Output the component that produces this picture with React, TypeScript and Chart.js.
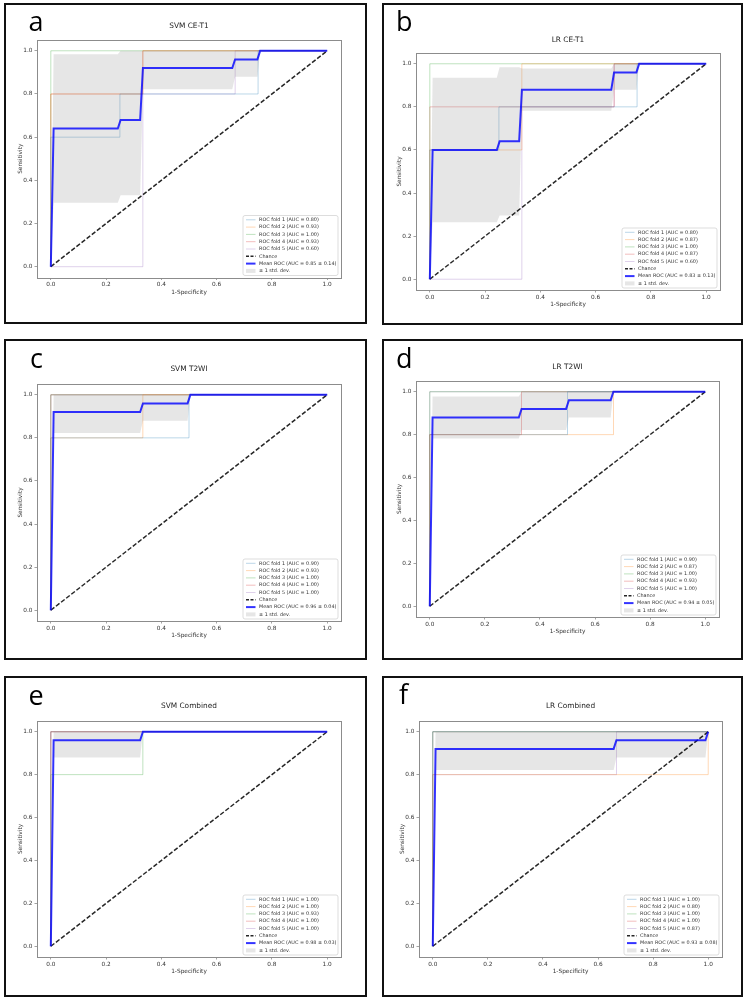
import React, { useEffect, useRef } from "react";
import { Chart, registerables } from "chart.js";

Chart.register(...registerables);

// ---------------- data ----------------
const X_TICKS = [0, 0.2, 0.4, 0.6, 0.8, 1.0];
const Y_TICKS = [0, 0.2, 0.4, 0.6, 0.8, 1.0];
const FOLD_LABELS = ["ROC fold 1", "ROC fold 2", "ROC fold 3", "ROC fold 4", "ROC fold 5"];
const CHANCE_LINE = [[0, 0], [1, 1]];
const PERFECT_FOLD = [[0, 0], [0, 1], [1, 1]];

// a — SVM CE-T1
const A_TITLE = "SVM CE-T1";
const A_FOLD_AUC = [0.8, 0.93, 1.0, 0.93, 0.6];
const A_MEAN_AUC = 0.85;
const A_STD_AUC = 0.14;
const A_FOLD1 = [[0, 0], [0, 0.6], [0.25, 0.6], [0.25, 0.8], [0.75, 0.8], [0.75, 1], [1, 1]];
const A_FOLD2 = [[0, 0], [0, 0.8], [0.333, 0.8], [0.333, 1], [1, 1]];
const A_FOLD3 = PERFECT_FOLD;
const A_FOLD4 = [[0, 0], [0, 0.8], [0.333, 0.8], [0.333, 1], [1, 1]];
const A_FOLD5 = [[0, 0], [0.333, 0], [0.333, 0.8], [0.667, 0.8], [0.667, 1], [1, 1]];
const A_MEAN_FPR = [0, 0.0101, 0.2424, 0.2525, 0.3232, 0.3333, 0.6566, 0.6667, 0.7475, 0.7576, 1];
const A_MEAN_TPR = [0, 0.64, 0.64, 0.68, 0.68, 0.92, 0.92, 0.96, 0.96, 1, 1];
const A_TPR_UPPER = [0, 0.984, 0.984, 1, 1, 1, 1, 1, 1, 1, 1];
const A_TPR_LOWER = [0, 0.296, 0.296, 0.331, 0.331, 0.822, 0.822, 0.88, 0.88, 1, 1];

// b — LR CE-T1
const B_TITLE = "LR CE-T1";
const B_FOLD_AUC = [0.8, 0.87, 1.0, 0.87, 0.6];
const B_MEAN_AUC = 0.83;
const B_STD_AUC = 0.13;
const B_FOLD1 = [[0, 0], [0, 0.6], [0.25, 0.6], [0.25, 0.8], [0.75, 0.8], [0.75, 1], [1, 1]];
const B_FOLD2 = [[0, 0], [0, 0.6], [0.333, 0.6], [0.333, 1], [1, 1]];
const B_FOLD3 = PERFECT_FOLD;
const B_FOLD4 = [[0, 0], [0, 0.8], [0.667, 0.8], [0.667, 1], [1, 1]];
const B_FOLD5 = [[0, 0], [0.333, 0], [0.333, 0.8], [0.667, 0.8], [0.667, 1], [1, 1]];
const B_MEAN_FPR = [0, 0.0101, 0.2424, 0.2525, 0.3232, 0.3333, 0.6566, 0.6667, 0.7475, 0.7576, 1];
const B_MEAN_TPR = [0, 0.6, 0.6, 0.64, 0.64, 0.88, 0.88, 0.96, 0.96, 1, 1];
const B_TPR_UPPER = [0, 0.935, 0.935, 0.984, 0.984, 0.978, 0.978, 1, 1, 1, 1];
const B_TPR_LOWER = [0, 0.265, 0.265, 0.296, 0.296, 0.782, 0.782, 0.88, 0.88, 1, 1];

// c — SVM T2WI
const C_TITLE = "SVM T2WI";
const C_FOLD_AUC = [0.9, 0.93, 1.0, 1.0, 1.0];
const C_MEAN_AUC = 0.96;
const C_STD_AUC = 0.04;
const C_FOLD1 = [[0, 0], [0, 0.8], [0.5, 0.8], [0.5, 1], [1, 1]];
const C_FOLD2 = [[0, 0], [0, 0.8], [0.333, 0.8], [0.333, 1], [1, 1]];
const C_FOLD3 = PERFECT_FOLD;
const C_FOLD4 = PERFECT_FOLD;
const C_FOLD5 = PERFECT_FOLD;
const C_MEAN_FPR = [0, 0.0101, 0.3232, 0.3333, 0.4949, 0.5051, 1];
const C_MEAN_TPR = [0, 0.92, 0.92, 0.96, 0.96, 1, 1];
const C_TPR_UPPER = [0, 1, 1, 1, 1, 1, 1];
const C_TPR_LOWER = [0, 0.822, 0.822, 0.88, 0.88, 1, 1];

// d — LR T2WI
const D_TITLE = "LR T2WI";
const D_FOLD_AUC = [0.9, 0.87, 1.0, 0.93, 1.0];
const D_MEAN_AUC = 0.94;
const D_STD_AUC = 0.05;
const D_FOLD1 = [[0, 0], [0, 0.8], [0.5, 0.8], [0.5, 1], [1, 1]];
const D_FOLD2 = [[0, 0], [0, 0.8], [0.667, 0.8], [0.667, 1], [1, 1]];
const D_FOLD3 = PERFECT_FOLD;
const D_FOLD4 = [[0, 0], [0, 0.8], [0.333, 0.8], [0.333, 1], [1, 1]];
const D_FOLD5 = PERFECT_FOLD;
const D_MEAN_FPR = [0, 0.0101, 0.3232, 0.3333, 0.4949, 0.5051, 0.6566, 0.6667, 1];
const D_MEAN_TPR = [0, 0.88, 0.88, 0.92, 0.92, 0.96, 0.96, 1, 1];
const D_TPR_UPPER = [0, 0.978, 0.978, 1, 1, 1, 1, 1, 1];
const D_TPR_LOWER = [0, 0.782, 0.782, 0.822, 0.822, 0.88, 0.88, 1, 1];

// e — SVM Combined
const E_TITLE = "SVM Combined";
const E_FOLD_AUC = [1.0, 1.0, 0.93, 1.0, 1.0];
const E_MEAN_AUC = 0.98;
const E_STD_AUC = 0.03;
const E_FOLD1 = PERFECT_FOLD;
const E_FOLD2 = PERFECT_FOLD;
const E_FOLD3 = [[0, 0], [0, 0.8], [0.333, 0.8], [0.333, 1], [1, 1]];
const E_FOLD4 = PERFECT_FOLD;
const E_FOLD5 = PERFECT_FOLD;
const E_MEAN_FPR = [0, 0.0101, 0.3232, 0.3333, 1];
const E_MEAN_TPR = [0, 0.96, 0.96, 1, 1];
const E_TPR_UPPER = [0, 1, 1, 1, 1];
const E_TPR_LOWER = [0, 0.88, 0.88, 1, 1];

// f — LR Combined
const F_TITLE = "LR Combined";
const F_FOLD_AUC = [1.0, 0.8, 1.0, 1.0, 0.87];
const F_MEAN_AUC = 0.93;
const F_STD_AUC = 0.08;
const F_FOLD1 = PERFECT_FOLD;
const F_FOLD2 = [[0, 0], [0, 0.8], [1, 0.8], [1, 1]];
const F_FOLD3 = PERFECT_FOLD;
const F_FOLD4 = PERFECT_FOLD;
const F_FOLD5 = [[0, 0], [0, 0.8], [0.667, 0.8], [0.667, 1], [1, 1]];
const F_MEAN_FPR = [0, 0.0101, 0.6566, 0.6667, 0.9899, 1];
const F_MEAN_TPR = [0, 0.92, 0.92, 0.96, 0.96, 1];
const F_TPR_UPPER = [0, 1, 1, 1, 1, 1];
const F_TPR_LOWER = [0, 0.822, 0.822, 0.88, 0.88, 1];

// ---------------- layout / style ----------------
// [left, top, right, bottom] in page pixels
const PANEL_BOXES = [
  [4, 3, 367, 324],
  [382, 3, 743, 325],
  [4, 339, 367, 660],
  [382, 339, 743, 660],
  [4, 676, 367, 997],
  [382, 676, 743, 997],
];
const AXES_BOXES = [
  [37, 40, 341, 277.5],
  [416, 53, 720, 290],
  [37, 384, 341, 621],
  [416, 381, 719, 617],
  [37, 721, 341, 957],
  [419, 721, 722, 957],
];
const TITLE_CENTER_Y = [26, 40, 369, 367, 706, 706];
const LETTERS = ["a", "b", "c", "d", "e", "f"];
const LETTER_POS = [
  [28.5, 30.5],
  [396, 30.5],
  [30, 368],
  [396, 368],
  [28.5, 705],
  [399, 704],
];

const FOLD_COLORS = [
  "rgba(31,119,180,0.3)",
  "rgba(255,127,14,0.3)",
  "rgba(44,160,44,0.3)",
  "rgba(214,39,40,0.3)",
  "rgba(148,103,189,0.3)",
];
const MEAN_COLOR = "rgba(0,0,255,0.8)";
const CHANCE_COLOR = "rgba(0,0,0,0.85)";
const BAND_COLOR = "rgba(128,128,128,0.2)";
const FONT = "'DejaVu Sans', sans-serif";
const TEXT_COLOR = "#333";
const FRAME_COLOR = "#8c8c8c";

const PANELS = [
  { title: A_TITLE, auc: A_FOLD_AUC, mean: A_MEAN_AUC, std: A_STD_AUC, folds: [A_FOLD1, A_FOLD2, A_FOLD3, A_FOLD4, A_FOLD5], fpr: A_MEAN_FPR, tpr: A_MEAN_TPR, up: A_TPR_UPPER, lo: A_TPR_LOWER },
  { title: B_TITLE, auc: B_FOLD_AUC, mean: B_MEAN_AUC, std: B_STD_AUC, folds: [B_FOLD1, B_FOLD2, B_FOLD3, B_FOLD4, B_FOLD5], fpr: B_MEAN_FPR, tpr: B_MEAN_TPR, up: B_TPR_UPPER, lo: B_TPR_LOWER },
  { title: C_TITLE, auc: C_FOLD_AUC, mean: C_MEAN_AUC, std: C_STD_AUC, folds: [C_FOLD1, C_FOLD2, C_FOLD3, C_FOLD4, C_FOLD5], fpr: C_MEAN_FPR, tpr: C_MEAN_TPR, up: C_TPR_UPPER, lo: C_TPR_LOWER },
  { title: D_TITLE, auc: D_FOLD_AUC, mean: D_MEAN_AUC, std: D_STD_AUC, folds: [D_FOLD1, D_FOLD2, D_FOLD3, D_FOLD4, D_FOLD5], fpr: D_MEAN_FPR, tpr: D_MEAN_TPR, up: D_TPR_UPPER, lo: D_TPR_LOWER },
  { title: E_TITLE, auc: E_FOLD_AUC, mean: E_MEAN_AUC, std: E_STD_AUC, folds: [E_FOLD1, E_FOLD2, E_FOLD3, E_FOLD4, E_FOLD5], fpr: E_MEAN_FPR, tpr: E_MEAN_TPR, up: E_TPR_UPPER, lo: E_TPR_LOWER },
  { title: F_TITLE, auc: F_FOLD_AUC, mean: F_MEAN_AUC, std: F_STD_AUC, folds: [F_FOLD1, F_FOLD2, F_FOLD3, F_FOLD4, F_FOLD5], fpr: F_MEAN_FPR, tpr: F_MEAN_TPR, up: F_TPR_UPPER, lo: F_TPR_LOWER },
];

// ---------------- plugins ----------------
const framePlugin = {
  id: "rocFrame",
  afterDatasetsDraw(chart: any) {
    const { ctx, chartArea } = chart;
    ctx.save();
    ctx.strokeStyle = FRAME_COLOR;
    ctx.lineWidth = 1;
    ctx.strokeRect(
      Math.round(chartArea.left) + 0.5,
      Math.round(chartArea.top) + 0.5,
      Math.round(chartArea.right - chartArea.left),
      Math.round(chartArea.bottom - chartArea.top)
    );
    ctx.restore();
  },
};

const legendPlugin = {
  id: "rocLegend",
  afterDraw(chart: any, _args: any, opts: any) {
    const { ctx, chartArea } = chart;
    const items = opts.items || [];
    const W = 95;
    const H = 60;
    const pitch = 7.3;
    const x0 = chartArea.right - 3 - W;
    const y0 = chartArea.bottom - 2 - H;
    ctx.save();
    const r = 2;
    ctx.beginPath();
    ctx.moveTo(x0 + r, y0);
    ctx.lineTo(x0 + W - r, y0);
    ctx.quadraticCurveTo(x0 + W, y0, x0 + W, y0 + r);
    ctx.lineTo(x0 + W, y0 + H - r);
    ctx.quadraticCurveTo(x0 + W, y0 + H, x0 + W - r, y0 + H);
    ctx.lineTo(x0 + r, y0 + H);
    ctx.quadraticCurveTo(x0, y0 + H, x0, y0 + H - r);
    ctx.lineTo(x0, y0 + r);
    ctx.quadraticCurveTo(x0, y0, x0 + r, y0);
    ctx.closePath();
    ctx.fillStyle = "rgba(255,255,255,0.8)";
    ctx.fill();
    ctx.strokeStyle = "#d4d4d4";
    ctx.lineWidth = 0.8;
    ctx.stroke();

    ctx.font = `4.9px ${FONT}`;
    ctx.textBaseline = "middle";
    ctx.textAlign = "left";
    items.forEach((it: any, i: number) => {
      const cy = y0 + 4.3 + i * pitch;
      const hx0 = x0 + 3;
      const hx1 = x0 + 12.5;
      if (it.kind === "patch") {
        ctx.fillStyle = it.color;
        ctx.fillRect(hx0, cy - 2, hx1 - hx0, 4);
      } else {
        ctx.beginPath();
        ctx.setLineDash(it.dash || []);
        ctx.strokeStyle = it.color;
        ctx.lineWidth = it.width;
        ctx.moveTo(hx0, cy);
        ctx.lineTo(hx1, cy);
        ctx.stroke();
        ctx.setLineDash([]);
      }
      ctx.fillStyle = TEXT_COLOR;
      ctx.fillText(it.label, x0 + 16, cy);
    });
    ctx.restore();
  },
};

// ---------------- component ----------------
const YW = 20;
const XH = 18;

function RocPanel({ idx }: { idx: number }) {
  const ref = useRef<HTMLCanvasElement | null>(null);
  const p = PANELS[idx];
  const [bl, bt, br, bb] = PANEL_BOXES[idx];
  const cx = bl + 2;
  const cy = bt + 2;
  const cw = br - bl - 4;
  const ch = bb - bt - 4;
  const [al, at, ar, ab] = AXES_BOXES[idx];

  useEffect(() => {
    const canvas = ref.current;
    if (!canvas) return;
    const toPts = (arr: number[][]) => arr.map(([x, y]) => ({ x, y }));
    const pairs = (xs: number[], ys: number[]) => xs.map((x, i) => ({ x, y: ys[i] }));
    const noLine = "rgba(0,0,0,0)";

    const datasets: any[] = [
      {
        label: `Mean ROC (AUC = ${p.mean.toFixed(2)} \u00b1 ${p.std.toFixed(2)})`,
        data: pairs(p.fpr, p.tpr),
        borderColor: MEAN_COLOR,
        borderWidth: 2,
        fill: false,
      },
      {
        label: "Chance",
        data: toPts(CHANCE_LINE),
        borderColor: CHANCE_COLOR,
        borderWidth: 1.5,
        borderDash: [4.5, 2],
        fill: false,
      },
      {
        label: "\u00b1 1 std. dev.",
        data: pairs(p.fpr, p.up),
        borderColor: noLine,
        borderWidth: 0,
        backgroundColor: BAND_COLOR,
        fill: "+1",
      },
      {
        label: "lower",
        data: pairs(p.fpr, p.lo),
        borderColor: noLine,
        borderWidth: 0,
        fill: false,
      },
      ...p.folds.map((f, i) => ({
        label: `${FOLD_LABELS[i]} (AUC = ${p.auc[i].toFixed(2)})`,
        data: toPts(f),
        borderColor: FOLD_COLORS[i],
        borderWidth: 1,
        fill: false,
      })),
    ];

    const legendItems = [
      ...p.auc.map((a, i) => ({
        label: `${FOLD_LABELS[i]} (AUC = ${a.toFixed(2)})`,
        kind: "line",
        color: FOLD_COLORS[i],
        width: 1,
      })),
      { label: "Chance", kind: "line", color: CHANCE_COLOR, width: 1.5, dash: [3, 1.5] },
      {
        label: `Mean ROC (AUC = ${p.mean.toFixed(2)} \u00b1 ${p.std.toFixed(2)})`,
        kind: "line",
        color: MEAN_COLOR,
        width: 2,
      },
      { label: "\u00b1 1 std. dev.", kind: "patch", color: BAND_COLOR },
    ];

    const tickFont = { family: FONT, size: 5.8 };
    const gridOpts = {
      display: true,
      drawOnChartArea: false,
      drawTicks: true,
      tickLength: 2.5,
      color: FRAME_COLOR,
      lineWidth: 0.8,
    };

    const chart = new Chart(canvas, {
      type: "line",
      data: { datasets },
      options: {
        animation: false,
        responsive: false,
        devicePixelRatio: 1,
        events: [],
        layout: {
          padding: {
            left: al - cx - YW,
            top: at - cy,
            right: cx + cw - ar,
            bottom: cy + ch - ab - XH,
          },
        },
        elements: {
          point: { radius: 0, hoverRadius: 0 },
          line: { tension: 0 },
        },
        plugins: {
          legend: { display: false },
          tooltip: { enabled: false },
          title: { display: false },
          rocLegend: { items: legendItems },
        } as any,
        scales: {
          x: {
            type: "linear",
            min: -0.05,
            max: 1.05,
            afterBuildTicks: (s: any) => {
              s.ticks = X_TICKS.map((v) => ({ value: v }));
            },
            afterFit: (s: any) => {
              s.height = XH;
            },
            ticks: {
              font: tickFont,
              color: TEXT_COLOR,
              padding: 1.5,
              maxRotation: 0,
              autoSkip: false,
              callback: (v: any) => Number(v).toFixed(1),
            },
            grid: gridOpts,
            border: { display: false },
            title: {
              display: true,
              text: "1-Specificity",
              font: tickFont,
              color: TEXT_COLOR,
              padding: 0,
            },
          },
          y: {
            type: "linear",
            min: -0.05,
            max: 1.05,
            afterBuildTicks: (s: any) => {
              s.ticks = Y_TICKS.map((v) => ({ value: v }));
            },
            afterFit: (s: any) => {
              s.width = YW;
            },
            ticks: {
              font: tickFont,
              color: TEXT_COLOR,
              padding: 2,
              autoSkip: false,
              callback: (v: any) => Number(v).toFixed(1),
            },
            grid: gridOpts,
            border: { display: false },
            title: {
              display: true,
              text: "Sensitivity",
              font: tickFont,
              color: TEXT_COLOR,
              padding: 0,
            },
          },
        },
      } as any,
      plugins: [framePlugin, legendPlugin],
    });
    return () => chart.destroy();
  }, [idx]);

  const [lx, lbase] = LETTER_POS[idx];
  const titleSize = 7.4;
  return (
    <>
      <canvas
        ref={ref}
        width={cw}
        height={ch}
        style={{ position: "absolute", left: cx, top: cy, width: cw, height: ch }}
      />
      <div
        style={{
          position: "absolute",
          left: bl,
          top: bt,
          width: br - bl,
          height: bb - bt,
          boxSizing: "border-box",
          border: "2px solid #111",
          pointerEvents: "none",
        }}
      />
      <div
        style={{
          position: "absolute",
          left: al,
          width: ar - al,
          top: TITLE_CENTER_Y[idx] - 3.6,
          textAlign: "center",
          fontFamily: FONT,
          fontSize: titleSize,
          lineHeight: 1,
          color: "#222",
          whiteSpace: "nowrap",
        }}
      >
        {p.title}
      </div>
      <div
        style={{
          position: "absolute",
          left: lx,
          top: lbase - 24,
          fontFamily: "'Open Sans', sans-serif",
          fontSize: 27,
          lineHeight: 1,
          color: "#000",
        }}
      >
        {LETTERS[idx]}
      </div>
    </>
  );
}

export default function App() {
  return (
    <div
      style={{
        position: "absolute",
        left: 0,
        top: 0,
        width: 750,
        height: 1004,
        background: "#fff",
        overflow: "hidden",
      }}
    >
      {PANELS.map((_, i) => (
        <RocPanel key={i} idx={i} />
      ))}
    </div>
  );
}
